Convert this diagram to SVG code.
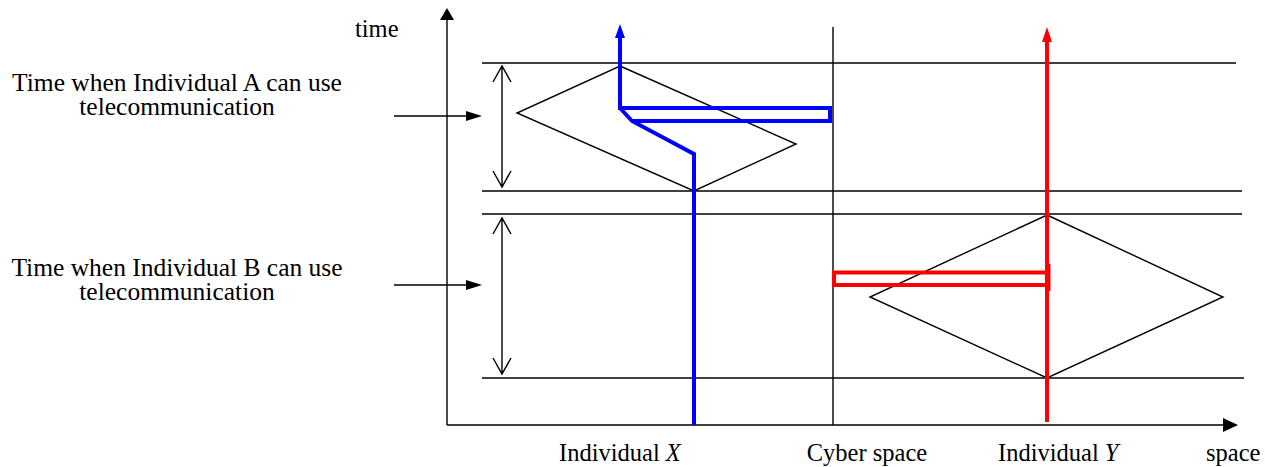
<svg xmlns="http://www.w3.org/2000/svg" width="1265" height="467" viewBox="0 0 1265 467">
<defs>
<style>
.t{font-family:"Liberation Serif","Times New Roman",serif;font-size:24.5px;fill:#000}
.l{font-size:25.5px}
.thin{stroke:#000;stroke-width:1.4;fill:none}
.blue{stroke:#0000ff;stroke-width:4;fill:none;stroke-linejoin:miter}
.red{stroke:#ff0000;stroke-width:4;fill:none}
</style>
</defs>
<rect width="1265" height="467" fill="#fff"/>
<g id="axes">
<line class="thin" x1="447" y1="18" x2="447" y2="425"/>
<polygon points="447,8 440,20 454,20" fill="#000"/>
<line class="thin" x1="447" y1="425" x2="1226" y2="425"/>
<polygon points="1238,425 1223,418 1223,432" fill="#000"/>
<text class="t" x="355" y="37">time</text>
<text class="t" x="1206" y="461">space</text>
</g>
<g id="grid">
<line class="thin" x1="482" y1="63" x2="1236" y2="63"/>
<line class="thin" x1="482" y1="191" x2="1242" y2="191"/>
<line class="thin" x1="482" y1="214" x2="1242" y2="214"/>
<line class="thin" x1="482" y1="378" x2="1244" y2="378"/>
</g>
<g id="cyber-space">
<line class="thin" x1="833" y1="27" x2="833" y2="425"/>
<text class="t" x="867" y="461" text-anchor="middle">Cyber space</text>
</g>
<g id="prism-a">
<polygon class="thin" points="620,66 796,144 694,191 517,113"/>
</g>
<g id="prism-b">
<polygon class="thin" points="1047,215 1223,297 1047,378 870,297"/>
</g>
<g id="label-a">
<text class="t l" x="177" y="91" text-anchor="middle">Time when Individual A can use</text>
<text class="t l" x="177" y="115" text-anchor="middle">telecommunication</text>
</g>
<g id="label-b">
<text class="t l" x="177" y="276" text-anchor="middle">Time when Individual B can use</text>
<text class="t l" x="177" y="300" text-anchor="middle">telecommunication</text>
</g>
<g id="individual-x">
<path class="blue" d="M694,425 V154 L632,121 L620,108 M632,121 H830 V108 H620 V36"/>
<polygon points="620,24 615,38 625,38" fill="#0000ff"/>
<text class="t" x="559" y="461">Individual <tspan font-style="italic">X</tspan></text>
</g>
<g id="individual-y">
<line class="red" x1="1047" y1="422" x2="1047" y2="40"/>
<polygon points="1047,27 1042,42 1052,42" fill="#ff0000"/>
<path class="red" d="M1047,272.5 H834 V285 H1047"/>
<line class="red" x1="1048.5" y1="264" x2="1048.5" y2="291"/>
<text class="t" x="998" y="461">Individual <tspan font-style="italic">Y</tspan></text>
</g>
<g id="connectors">
<line class="thin" x1="394" y1="116" x2="468" y2="116"/>
<polygon points="482,116 466,111 466,121" fill="#000"/>
<line class="thin" x1="394" y1="285" x2="468" y2="285"/>
<polygon points="482,285 466,280 466,290" fill="#000"/>
<path class="thin" d="M502,67 V186 M493,82 L502,66 L511,82 M493,171 L502,187 L511,171"/>
<path class="thin" d="M502,219 V373 M493,234 L502,218 L511,234 M493,358 L502,374 L511,358"/>
</g>
</svg>
